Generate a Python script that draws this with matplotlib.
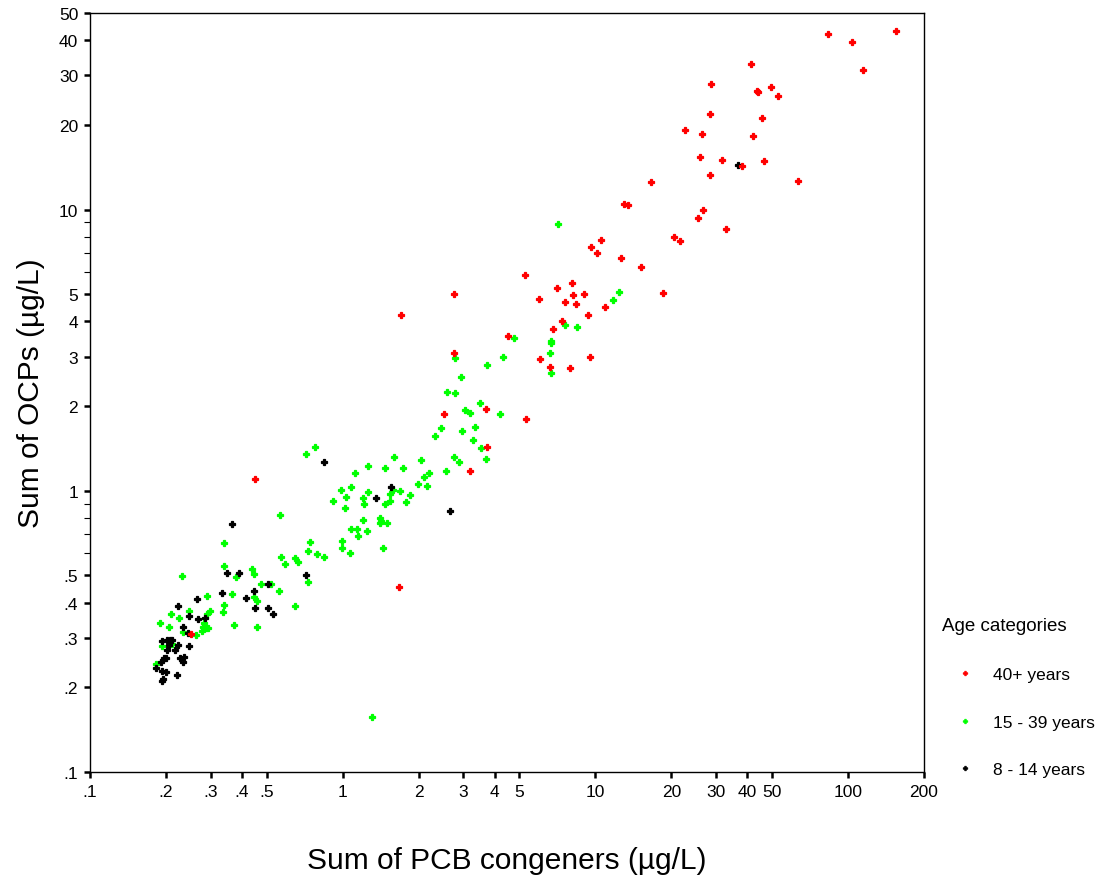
import matplotlib
matplotlib.use("Agg")
import matplotlib.pyplot as plt
from matplotlib.ticker import FixedLocator, FixedFormatter, NullFormatter
from matplotlib.lines import Line2D

plt.rcParams['font.family'] = ['Liberation Sans', 'DejaVu Sans']

# ---- data (Sum of PCB congeners, Sum of OCPs) ----
red_x = [83, 104, 155, 115, 41.5, 28.8, 43.5, 44, 49.5, 53, 28.5, 45.6, 22.7, 26.5, 42,
         26, 31.6, 38.2, 46.7, 28.5, 63.5, 16.6, 13.0, 13.5, 26.8, 25.5, 33, 10.5, 9.6, 10.2,
         20.4, 21.7, 12.6, 15.2, 5.25, 18.6, 8.1, 7.05, 6.0, 8.15, 9.05, 7.6, 8.35, 10.9, 9.35,
         7.4, 6.8, 9.5, 6.05, 2.75, 1.7, 4.5, 2.75, 6.6, 7.95, 3.68, 2.53, 5.3, 3.73, 3.2,
         1.67, 0.25, 0.45]
red_y = [42, 39.5, 43, 31.3, 33, 27.9, 26.5, 26.2, 27.3, 25.4, 21.9, 21.2, 19.2, 18.6, 18.3,
         15.4, 15.0, 14.3, 14.9, 13.3, 12.6, 12.5, 10.5, 10.4, 9.95, 9.36, 8.5, 7.8, 7.35, 7.0,
         8.0, 7.7, 6.7, 6.25, 5.87, 5.05, 5.5, 5.27, 4.82, 4.95, 5.0, 4.7, 4.6, 4.5, 4.22,
         4.0, 3.77, 2.99, 2.94, 5.0, 4.22, 3.56, 3.1, 2.76, 2.73, 1.95, 1.87, 1.8, 1.43, 1.18,
         0.455, 0.31, 1.1]

green_x = [7.15, 12.4, 11.7, 7.6, 8.5, 6.65, 6.65, 6.6, 4.78, 2.78, 6.65, 4.3, 3.72, 2.95, 2.6,
           2.78, 3.5, 3.05, 3.2, 4.2, 2.45, 2.32, 2.98, 3.35, 3.28, 3.52, 3.68, 2.56, 1.6, 2.04,
           2.88, 2.75, 1.26, 1.47, 1.73, 1.12, 2.2, 2.1, 1.98, 2.15, 1.58, 1.69, 1.84, 1.54, 1.78,
           1.54, 1.47, 1.26, 1.2, 1.22, 1.08, 0.985, 1.03, 0.92, 1.02, 1.2, 1.41, 1.42, 1.4, 1.5,
           1.08, 1.14, 1.25, 1.15, 0.99, 0.99, 1.07, 1.45, 1.31, 0.34, 0.74, 0.73, 0.57, 0.59,
           0.65, 0.665, 0.795, 0.84, 0.231, 0.34, 0.437, 0.445, 0.378, 0.73, 0.474, 0.52, 0.29,
           0.365, 0.56, 0.445, 0.458, 0.34, 0.65, 0.336, 0.298, 0.29, 0.247, 0.21, 0.225, 0.19,
           0.282, 0.205, 0.37, 0.458, 0.281, 0.287, 0.292, 0.278, 0.233, 0.262, 0.212, 0.193,
           0.182, 0.715, 0.78, 0.565]
green_y = [8.9, 5.1, 4.75, 3.9, 3.83, 3.4, 3.35, 3.1, 3.48, 2.97, 2.62, 3.0, 2.8, 2.54, 2.25,
           2.23, 2.05, 1.93, 1.89, 1.87, 1.67, 1.56, 1.63, 1.68, 1.51, 1.42, 1.3, 1.18, 1.32, 1.29,
           1.27, 1.32, 1.22, 1.21, 1.21, 1.16, 1.16, 1.12, 1.06, 1.04, 1.01, 1.0, 0.97, 0.977, 0.91,
           0.92, 0.9, 0.99, 0.94, 0.9, 1.03, 1.01, 0.95, 0.92, 0.87, 0.79, 0.8, 0.78, 0.77, 0.77,
           0.73, 0.73, 0.72, 0.69, 0.665, 0.625, 0.6, 0.625, 0.157, 0.65, 0.66, 0.61, 0.58, 0.55,
           0.575, 0.56, 0.595, 0.58, 0.497, 0.54, 0.525, 0.505, 0.495, 0.475, 0.465, 0.465, 0.424,
           0.428, 0.44, 0.418, 0.405, 0.392, 0.388, 0.372, 0.373, 0.366, 0.374, 0.366, 0.353, 0.34,
           0.338, 0.328, 0.334, 0.328, 0.327, 0.325, 0.324, 0.318, 0.315, 0.307, 0.285, 0.28,
           0.243, 1.35, 1.43, 0.82]

black_x = [36.8, 1.55, 1.36, 2.65, 0.35, 0.388, 0.715, 0.505, 0.333, 0.445, 0.416, 0.266, 0.222,
           0.45, 0.505, 0.53, 0.247, 0.286, 0.268, 0.233, 0.245, 0.193, 0.202, 0.207, 0.212, 0.222,
           0.205, 0.247, 0.202, 0.217, 0.196, 0.2, 0.227, 0.236, 0.191, 0.233, 0.182, 0.192, 0.2,
           0.22, 0.193, 0.194, 0.845, 0.365]
black_y = [14.4, 1.03, 0.94, 0.85, 0.51, 0.51, 0.5, 0.465, 0.433, 0.44, 0.414, 0.412, 0.39,
           0.384, 0.384, 0.364, 0.36, 0.353, 0.349, 0.329, 0.311, 0.292, 0.295, 0.295, 0.295, 0.283,
           0.283, 0.28, 0.271, 0.271, 0.255, 0.255, 0.255, 0.257, 0.247, 0.247, 0.234, 0.228, 0.226,
           0.221, 0.211, 0.214, 1.27, 0.76]

group_labels = ['40+ years', '15 - 39 years', '8 - 14 years']
group_colors = ['#ff0000', '#00ff00', '#000000']

x_ticks = [0.1, 0.2, 0.3, 0.4, 0.5, 1, 2, 3, 4, 5, 10, 20, 30, 40, 50, 100, 200]
x_ticklabels = ['.1', '.2', '.3', '.4', '.5', '1', '2', '3', '4', '5', '10', '20', '30', '40', '50', '100', '200']
y_ticks = [0.1, 0.2, 0.3, 0.4, 0.5, 1, 2, 3, 4, 5, 10, 20, 30, 40, 50]
y_ticklabels = ['.1', '.2', '.3', '.4', '.5', '1', '2', '3', '4', '5', '10', '20', '30', '40', '50']
y_minor = [0.6, 0.7, 0.8, 0.9, 6, 7, 8, 9]

# ---- figure ----
W, H = 1095, 879
fig = plt.figure(figsize=(W / 100, H / 100), dpi=100)
ax = fig.add_axes([90 / W, 1 - 773 / H, (924 - 90) / W, (773 - 14) / H])

ms = 4.6
mew = 0.9
for xs, ys, c in [(green_x, green_y, group_colors[1]),
                  (black_x, black_y, group_colors[2]),
                  (red_x, red_y, group_colors[0])]:
    ax.plot(xs, ys, linestyle='none', marker='P', ms=ms, mew=mew, mec=c, mfc=c)

ax.set_xscale('log')
ax.set_yscale('log')
ax.set_xlim(0.1, 200)
ax.set_ylim(0.1, 50)

ax.xaxis.set_major_locator(FixedLocator(x_ticks))
ax.xaxis.set_major_formatter(FixedFormatter(x_ticklabels))
ax.xaxis.set_minor_locator(FixedLocator([]))
ax.xaxis.set_minor_formatter(NullFormatter())
ax.yaxis.set_major_locator(FixedLocator(y_ticks))
ax.yaxis.set_major_formatter(FixedFormatter(y_ticklabels))
ax.yaxis.set_minor_locator(FixedLocator(y_minor))
ax.yaxis.set_minor_formatter(NullFormatter())

ax.tick_params(axis='both', which='major', direction='out', length=4.5, width=1.8,
               labelsize=12.5, color='black', pad=4)
ax.tick_params(axis='y', which='minor', direction='out', length=4.5, width=0.8)
for s in ax.spines.values():
    s.set_linewidth(1.0)

ax.set_xlabel('Sum of PCB congeners (µg/L)', fontsize=21.5, labelpad=34)
ax.set_ylabel('Sum of OCPs (µg/L)', fontsize=21.5, labelpad=10)

handles = [Line2D([], [], linestyle='none', marker='P', ms=3.2, mew=0.6, mec=c, mfc=c)
           for c in group_colors]
leg = ax.legend(handles, group_labels, title='Age categories', loc='upper left',
                bbox_to_anchor=(942 / W, 1 - 618 / H), bbox_transform=fig.transFigure,
                frameon=False, fontsize=12.5, title_fontsize=13.5, labelspacing=1.84,
                handlelength=2.6, handletextpad=0.35, borderaxespad=0, borderpad=0,
                alignment='left')
leg._legend_box.sep = 24

fig.savefig('out.png', dpi=100)
